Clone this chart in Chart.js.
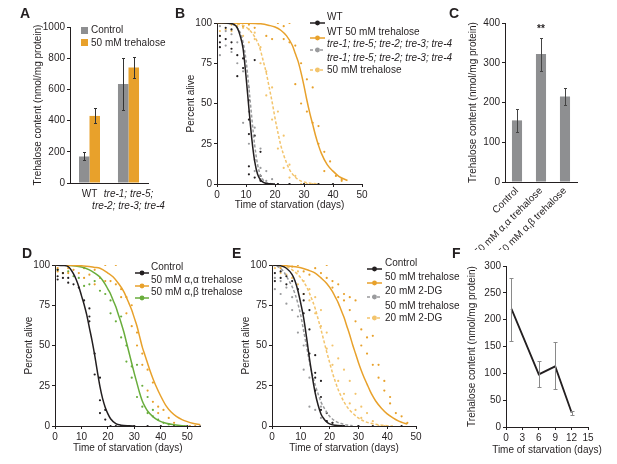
<!DOCTYPE html>
<html>
<head>
<meta charset="utf-8">
<script src="https://cdn.jsdelivr.net/npm/chart.js@4/dist/chart.umd.min.js"></script>
<style>
  body { margin: 0; background: #fff; font-family: 'Liberation Sans', Arial, sans-serif; color: #231f20; }
  #fig { position: relative; width: 617px; height: 464px; overflow: hidden; }
  canvas { position: absolute; }
  .letter { position: absolute; font-weight: bold; font-size: 14px; line-height: 14px; }
  .leg { position: absolute; font-size: 10px; line-height: 12px; white-space: nowrap; }
  .mark { position: absolute; }
  .xtitle { position: absolute; font-size: 10px; line-height: 12px; white-space: nowrap; transform: translateX(-50%); }
</style>
</head>
<body>
<div id="fig"></div>
<script>
/* global Chart */

// ---- panel A: trehalose content, WT vs quintuple mutant
const aCategories = ['WT', ['tre-1; tre-5;', 'tre-2; tre-3; tre-4']]
const aControl = [170, 635]
const aControlLo = [145, 465]
const aControlHi = [200, 800]
const aTrehalose = [430, 740]
const aTrehaloseLo = [385, 670]
const aTrehaloseHi = [478, 808]
const aTicks = [0, 200, 400, 600, 800, 1000]

// ---- panel B: survival, [day, percent alive]
const bSeries = ['WT', 'WT 50 mM trehalose', 'tre-1; tre-5; tre-2; tre-3; tre-4', 'tre-1; tre-5; tre-2; tre-3; tre-4|50 mM trehalose']
const bWtFit = [[0, 100], [2, 100], [4, 99.8], [6, 99], [7, 97], [8, 92], [9, 84], [10, 67], [11, 47], [12, 28], [13, 14], [14, 6], [15, 2.5], [16, 1], [17, 0.3], [18, 0.1], [20, 0]]
const bTreFit = [[0, 100], [2, 100], [4, 99.7], [6, 98.5], [8, 94], [9, 88], [10, 77], [11, 60], [12, 41], [13, 24], [14, 12], [15, 5.5], [16, 2.3], [17, 1], [18, 0.4], [20, 0]]
const bTreTreFit = [[0, 100], [5, 99.8], [8, 99], [10, 97.5], [12, 94], [14, 88], [15, 83], [16, 76], [17, 69], [18, 60], [19, 51], [20, 41], [21, 32], [22, 24], [23, 18], [24, 13], [25, 9], [27, 4.2], [29, 1.8], [31, 0.8], [33, 0.3], [35, 0]]
const bWtTreFit = [[0, 100], [10, 99.9], [15, 99.5], [18, 98.5], [20, 97.5], [22, 95.5], [24, 92], [26, 86], [27, 81], [28, 76], [29, 69], [30, 61], [31, 52], [32, 44], [33, 37], [34, 30], [35, 24], [36, 19], [38, 12], [40, 8], [42, 4.8], [45, 2.2]]
const bWtDots = [[1, 92], [1, 88], [1, 85], [3, 97], [3, 90], [5, 96], [5, 88], [5, 84], [7, 80], [7, 67], [9, 78], [9, 72], [11, 52], [11, 40], [11, 31], [11, 11], [11, 6], [13, 77], [13, 30], [13, 4], [15, 20], [15, 5], [15, 2], [17, 0], [19, 0], [21, 0], [25, 0], [30, 0], [35, 0], [40, 0]]
const bTreDots = [[1, 98], [1, 80], [3, 95], [3, 86], [5, 93], [5, 82], [7, 88], [7, 75], [9, 70], [9, 38], [11, 60], [11, 45], [11, 25], [13, 35], [13, 15], [13, 8], [15, 22], [15, 10], [15, 3], [17, 8], [17, 2], [19, 3], [19, 0], [21, 0], [25, 0]]
const bTreTreDots = [[1, 100], [1, 95], [3, 100], [3, 96], [5, 100], [5, 95], [7, 98], [9, 97], [9, 92], [11, 96], [11, 88], [13, 94], [13, 90], [15, 85], [15, 75], [17, 70], [17, 55], [19, 60], [19, 40], [21, 45], [21, 22], [23, 30], [23, 10], [25, 12], [25, 4], [27, 5], [29, 0], [31, 0], [33, 0], [35, 0]]
const bWtTreDots = [[1, 100], [3, 100], [5, 99], [7, 100], [9, 98], [11, 99], [13, 97], [15, 100], [17, 92], [19, 90], [21, 100], [23, 98], [23, 90], [25, 100], [25, 88], [27, 86], [27, 62], [29, 75], [29, 50], [31, 65], [31, 45], [33, 60], [33, 38], [35, 36], [35, 25], [37, 20], [37, 8], [39, 14], [41, 5], [43, 2], [43, 3]]

// ---- panel C: trehalose content by isomer
const cCategories = ['Control', '50 mM α,α trehalose', '50 mM α,β trehalose']
const cValues = [155, 322, 215]
const cLo = [127, 280, 193]
const cHi = [183, 362, 237]
const cSignif = ['', '**', '']
const cTicks = [0, 100, 200, 300, 400]

// ---- panel D: survival with trehalose isomers
const dSeries = ['Control', '50 mM α,α trehalose', '50 mM α,β trehalose']
const dCtrlFit = [[0, 100], [3, 99.7], [5, 99], [7, 94.5], [8, 91], [9, 86.5], [10, 81], [11, 75.5], [12, 69], [13, 61], [14, 53], [15, 44], [16, 34], [17, 24.5], [18, 17], [19, 11.5], [20, 7.5], [21, 4.5], [23, 1.5], [25, 0.5], [28, 0.1], [30, 0]]
const dAaFit = [[0, 100], [10, 99.5], [15, 98.5], [17, 98], [20, 95], [22, 92.5], [24, 88.5], [26, 83.5], [28, 76], [29, 72], [30, 67], [31, 62], [32, 55.5], [33, 49], [34, 44], [35, 39], [36, 34], [37, 29.5], [38, 25.5], [40, 18.5], [42, 12.5], [44, 8.5], [46, 5.8], [48, 4], [50, 2.7], [52, 1.7], [55, 0.8]]
const dAbFit = [[0, 100], [5, 99.8], [10, 98.7], [13, 97], [15, 95], [17, 92.5], [19, 88], [20, 85], [21, 82], [22, 78], [23, 74], [24, 69], [25, 64], [26, 58.5], [27, 52], [28, 45.5], [29, 39], [30, 32.5], [31, 26.5], [32, 20.5], [33, 15.5], [34, 12], [35, 9.3], [37, 5.8], [39, 3.5], [42, 1.7], [45, 0.8], [48, 0.2], [50, 0]]
const dCtrlDots = [[1, 97], [1, 93], [1, 91], [3, 95], [3, 92], [5, 92], [5, 89], [7, 88], [9, 86], [11, 78], [13, 73], [13, 68], [13, 65], [15, 45], [15, 32], [17, 30], [17, 16], [17, 8], [19, 10], [19, 4], [21, 0], [23, 0], [25, 0], [30, 0], [35, 0], [40, 0], [45, 0], [50, 0], [55, 0]]
const dAaDots = [[1, 98], [1, 96], [3, 100], [3, 95], [5, 98], [5, 95], [7, 97], [9, 95], [11, 98], [11, 92], [13, 94], [15, 97], [15, 88], [17, 92], [19, 100], [19, 90], [21, 90], [23, 100], [23, 88], [25, 85], [25, 80], [27, 80], [27, 70], [29, 75], [29, 62], [31, 58], [31, 50], [33, 45], [33, 38], [35, 35], [35, 22], [37, 27], [37, 15], [39, 12], [39, 8], [41, 10], [43, 5], [45, 2], [47, 0], [49, 0], [51, 0], [53, 0]]
const dAbDots = [[1, 97], [3, 95], [5, 96], [7, 93], [9, 92], [11, 87], [13, 88], [15, 90], [17, 84], [19, 82], [21, 78], [21, 70], [23, 65], [25, 68], [25, 55], [27, 50], [27, 40], [29, 37], [29, 30], [31, 38], [31, 18], [33, 25], [33, 12], [35, 18], [35, 8], [37, 10], [37, 6], [39, 4], [41, 2], [43, 1], [45, 0], [47, 0]]

// ---- panel E: survival with 2-DG
const eSeries = ['Control', '50 mM trehalose', '20 mM 2-DG', '50 mM trehalose|20 mM 2-DG']
const eCtrlFit = [[0, 100], [3, 99.5], [5, 98], [7, 94], [8, 90], [9, 84], [10, 76], [11, 67], [12, 55], [13, 42], [14, 30.5], [15, 20.5], [16, 13], [17, 7.5], [18, 4.5], [19, 2.5], [20, 1.3], [22, 0.4], [25, 0]]
const eDgFit = [[0, 100], [2, 99], [4, 96], [5, 93], [6, 90], [7, 86.5], [8, 82], [9, 76], [10, 68.5], [11, 59], [12, 49.5], [13, 40], [14, 32], [15, 25.5], [16, 20], [17, 15], [18, 11.5], [19, 8.5], [20, 6], [22, 3], [24, 1.5], [26, 0.6], [28, 0.2]]
const eTreDgFit = [[0, 100], [5, 99], [7, 97], [9, 94], [11, 89.5], [12, 86.5], [13, 82.5], [14, 78], [15, 73], [16, 66.5], [17, 60], [18, 53], [19, 46], [20, 39.5], [21, 33], [22, 27.5], [23, 22.5], [24, 18.5], [25, 15], [26, 12], [28, 8], [30, 5], [32, 3], [34, 1.8], [37, 0.8], [40, 0.2], [42, 0]]
const eTreFit = [[0, 100], [5, 99.5], [10, 98.3], [13, 96.5], [15, 95], [17, 92], [19, 88.5], [21, 83.5], [22, 80], [23, 76.5], [24, 72], [25, 67.5], [26, 62], [27, 56.5], [28, 50.5], [29, 45], [30, 39.5], [31, 34.5], [32, 30], [33, 26], [34, 22], [35, 18.5], [36, 15.5], [38, 11], [40, 7.5], [42, 5], [44, 3], [46, 1.7], [47, 1.2]]
const eCtrlDots = [[1, 95], [1, 90], [3, 96], [3, 92], [5, 93], [5, 88], [7, 90], [9, 85], [11, 82], [11, 78], [11, 70], [13, 72], [13, 60], [13, 45], [15, 44], [15, 33], [15, 22], [15, 30], [17, 28], [17, 18], [17, 10], [19, 8], [19, 3], [21, 2], [23, 0], [25, 0], [30, 0], [35, 0], [40, 0], [45, 0]]
const eDgDots = [[1, 92], [1, 85], [3, 90], [3, 82], [5, 86], [5, 76], [7, 80], [7, 72], [9, 68], [9, 58], [11, 50], [11, 35], [13, 30], [13, 12], [15, 22], [15, 10], [17, 12], [17, 5], [19, 3], [21, 2], [23, 0], [25, 0], [30, 0]]
const eTreDots = [[1, 100], [3, 98], [5, 100], [7, 99], [9, 100], [11, 96], [13, 94], [15, 98], [17, 95], [19, 100], [19, 92], [21, 90], [21, 86], [23, 88], [23, 80], [25, 82], [25, 78], [27, 80], [27, 72], [29, 78], [29, 65], [31, 60], [31, 50], [33, 55], [33, 45], [35, 56], [35, 38], [37, 38], [37, 30], [39, 28], [39, 22], [41, 14], [41, 18], [43, 8], [45, 6], [47, 2]]
const eTreDgDots = [[1, 98], [3, 95], [5, 94], [7, 92], [9, 96], [9, 88], [11, 90], [11, 82], [13, 85], [13, 78], [15, 80], [15, 70], [17, 72], [17, 62], [19, 58], [19, 48], [21, 50], [21, 38], [23, 42], [23, 28], [25, 35], [25, 20], [27, 28], [27, 14], [29, 20], [29, 10], [31, 12], [31, 5], [33, 8], [35, 3], [37, 0], [39, 0]]

// ---- panel F: trehalose content during starvation
const fDays = [1, 6, 9, 12]
const fContent = [220, 98, 113, 27]
const fLo = [160, 75, 70, 23]
const fHi = [278, 123, 158, 30]

const INK = '#231f20'
const ORANGE = '#e8a12b'
const LORANGE = '#f3c46c'
const GRAY = '#9a9b9d'
const BARGRAY = '#8e8f91'
const GREEN = '#69ad3c'

Chart.defaults.font.family = "'Liberation Sans', Arial, sans-serif"
Chart.defaults.font.size = 10
Chart.defaults.color = INK

const fig = document.getElementById('fig')

function makeCanvas (box) {
  const c = document.createElement('canvas')
  c.width = box.w
  c.height = box.h
  c.style.left = box.x + 'px'
  c.style.top = box.y + 'px'
  fig.appendChild(c)
  return c
}

// padding + fixed axis sizes so the plot area lands where it is in the figure
function frame (box, area, padLeft, padBottom) {
  return {
    padding: { left: padLeft, top: area.t - box.y, right: box.x + box.w - area.r, bottom: padBottom },
    yWidth: area.l - box.x - padLeft,
    xHeight: box.y + box.h - area.b - padBottom
  }
}

function linAxis (o) {
  return {
    type: 'linear',
    min: o.min,
    max: o.max,
    afterBuildTicks: s => { s.ticks = o.ticks.map(value => ({ value })) },
    afterFit: o.fit,
    grid: { drawOnChartArea: false, tickLength: 3, color: INK },
    border: { color: INK, width: 1 },
    ticks: { padding: 2, color: INK, autoSkip: false, maxRotation: 0, callback: v => String(v) },
    title: o.title ? { display: true, text: o.title, padding: 0, color: INK } : { display: false }
  }
}

const errorBars = {
  id: 'errorBars',
  afterDatasetsDraw (chart) {
    const ctx = chart.ctx
    const y = chart.scales.y
    chart.data.datasets.forEach((ds, i) => {
      if (!ds.errLo) return
      const meta = chart.getDatasetMeta(i)
      ctx.save()
      ctx.strokeStyle = ds.errColor
      ctx.lineWidth = 1
      meta.data.forEach((el, j) => {
        const x = Math.round(el.x) + 0.5
        const lo = Math.round(y.getPixelForValue(ds.errLo[j])) + 0.5
        const hi = Math.round(y.getPixelForValue(ds.errHi[j])) + 0.5
        const c = ds.cap
        ctx.beginPath()
        ctx.moveTo(x, lo); ctx.lineTo(x, hi)
        ctx.moveTo(x - c, lo); ctx.lineTo(x + c, lo)
        ctx.moveTo(x - c, hi); ctx.lineTo(x + c, hi)
        ctx.stroke()
      })
      ctx.restore()
    })
  }
}

const baseOpts = f => ({
  responsive: false,
  animation: false,
  events: [],
  layout: { padding: f.padding },
  plugins: { legend: { display: false }, tooltip: { enabled: false } }
})

const fitLine = (pts, color, dash) => ({
  data: pts.map(([x, y]) => ({ x, y })),
  showLine: true,
  borderColor: color,
  borderWidth: 1.5,
  borderDash: dash ? [3, 2] : [],
  pointRadius: 0,
  cubicInterpolationMode: 'monotone',
  tension: 0.4
})

const dotSet = (pts, color) => ({
  data: pts.map(([x, y]) => ({ x, y })),
  showLine: false,
  pointRadius: 1.1,
  pointBackgroundColor: color,
  pointBorderWidth: 0
})

function survival (box, area, padLeft, padBottom, xMax, xTicks, datasets) {
  const f = frame(box, area, padLeft, padBottom)
  new Chart(makeCanvas(box), {
    type: 'scatter',
    data: { datasets },
    options: Object.assign(baseOpts(f), {
      scales: {
        x: linAxis({ min: 0, max: xMax, ticks: xTicks, title: 'Time of starvation (days)', fit: s => { s.height = f.xHeight } }),
        y: linAxis({ min: 0, max: 100, ticks: [0, 25, 50, 75, 100], title: 'Percent alive', fit: s => { s.width = f.yWidth } })
      }
    })
  })
}

// ---- A
const boxA = { x: 0, y: 0, w: 200, h: 225 }
const fA = frame(boxA, { l: 70, t: 27, r: 148, b: 183 }, 32, 0)
new Chart(makeCanvas(boxA), {
  type: 'bar',
  data: {
    labels: aCategories,
    datasets: [
      { label: 'Control', data: aControl, backgroundColor: BARGRAY, errLo: aControlLo, errHi: aControlHi, errColor: '#333', cap: 1.5 },
      { label: '50 mM trehalose', data: aTrehalose, backgroundColor: ORANGE, errLo: aTrehaloseLo, errHi: aTrehaloseHi, errColor: '#333', cap: 1.5 }
    ]
  },
  options: Object.assign(baseOpts(fA), {
    datasets: { bar: { categoryPercentage: 0.54, barPercentage: 1 } },
    scales: {
      x: {
        grid: { display: false, drawTicks: false },
        border: { color: INK, width: 1 },
        afterFit: s => { s.height = fA.xHeight },
        ticks: { padding: 5, color: INK, maxRotation: 0, autoSkip: false, font: c => ({ size: 10, style: c.index === 1 ? 'italic' : 'normal' }) }
      },
      y: linAxis({ min: 0, max: 1000, ticks: aTicks, title: 'Trehalose content (nmol/mg protein)', fit: s => { s.width = fA.yWidth } })
    }
  }),
  plugins: [errorBars]
})

// ---- B
survival({ x: 180, y: 0, w: 195, h: 215 }, { l: 217, t: 23, r: 362, b: 184 }, 5, 4, 50, [0, 10, 20, 30, 40, 50], [
  fitLine(bWtFit, INK), fitLine(bWtTreFit, ORANGE), fitLine(bTreFit, GRAY, true), fitLine(bTreTreFit, LORANGE, true),
  dotSet(bWtDots, INK), dotSet(bWtTreDots, ORANGE), dotSet(bTreDots, GRAY), dotSet(bTreTreDots, LORANGE)
])

// ---- C
const boxC = { x: 458, y: 0, w: 159, h: 250 }
const fC = frame(boxC, { l: 505, t: 23, r: 577, b: 182 }, 9, 0)
const signifMarks = {
  id: 'signif',
  afterDatasetsDraw (chart) {
    const ctx = chart.ctx
    const meta = chart.getDatasetMeta(0)
    ctx.save()
    ctx.fillStyle = INK
    ctx.font = "bold 10px 'Liberation Sans', Arial, sans-serif"
    ctx.textAlign = 'center'
    ctx.textBaseline = 'middle'
    cSignif.forEach((s, i) => {
      if (s) ctx.fillText(s, meta.data[i].x, chart.scales.y.getPixelForValue(cHi[i] + 22))
    })
    ctx.restore()
  }
}
new Chart(makeCanvas(boxC), {
  type: 'bar',
  data: {
    labels: cCategories,
    datasets: [{ data: cValues, backgroundColor: BARGRAY, errLo: cLo, errHi: cHi, errColor: '#444', cap: 1.5 }]
  },
  options: Object.assign(baseOpts(fC), {
    datasets: { bar: { categoryPercentage: 1, barPercentage: 0.42 } },
    scales: {
      x: {
        grid: { display: false, drawTicks: false },
        border: { color: INK, width: 1 },
        afterFit: s => { s.height = fC.xHeight },
        ticks: { padding: 3, color: INK, minRotation: 45, maxRotation: 45, autoSkip: false }
      },
      y: linAxis({ min: 0, max: 400, ticks: cTicks, title: 'Trehalose content (nmol/mg protein)', fit: s => { s.width = fC.yWidth } })
    }
  }),
  plugins: [errorBars, signifMarks]
})

// ---- D
survival({ x: 10, y: 240, w: 210, h: 224 }, { l: 55, t: 265, r: 200.5, b: 426 }, 13, 10, 55, [0, 10, 20, 30, 40, 50], [
  fitLine(dCtrlFit, INK), fitLine(dAaFit, ORANGE), fitLine(dAbFit, GREEN),
  dotSet(dCtrlDots, INK), dotSet(dAaDots, ORANGE), dotSet(dAbDots, GREEN)
])

// ---- E
survival({ x: 222, y: 240, w: 205, h: 224 }, { l: 272, t: 265, r: 416, b: 426 }, 18, 10, 50, [0, 10, 20, 30, 40, 50], [
  fitLine(eCtrlFit, INK), fitLine(eTreFit, ORANGE), fitLine(eDgFit, GRAY, true), fitLine(eTreDgFit, LORANGE, true),
  dotSet(eCtrlDots, INK), dotSet(eTreDots, ORANGE), dotSet(eDgDots, GRAY), dotSet(eTreDgDots, LORANGE)
])

// ---- F  (x title is wider than the axis, so it goes in as page text)
const boxF = { x: 458, y: 240, w: 159, h: 224 }
const fF = frame(boxF, { l: 506, t: 266, r: 588, b: 427 }, 8, 8)
new Chart(makeCanvas(boxF), {
  type: 'scatter',
  data: {
    datasets: [{
      data: fDays.map((x, i) => ({ x, y: fContent[i] })),
      showLine: true,
      borderColor: INK,
      borderWidth: 1.8,
      pointRadius: 0,
      errLo: fLo,
      errHi: fHi,
      errColor: '#8a8a8a',
      cap: 2
    }]
  },
  options: Object.assign(baseOpts(fF), {
    scales: {
      x: linAxis({ min: 0, max: 15, ticks: [0, 3, 6, 9, 12, 15], fit: s => { s.height = fF.xHeight } }),
      y: linAxis({ min: 0, max: 300, ticks: [0, 50, 100, 150, 200, 250, 300], title: 'Trehalose content (nmol/mg protein)', fit: s => { s.width = fF.yWidth } })
    }
  }),
  plugins: [errorBars]
})

// ---- panel letters and legends
function addDiv (cls, x, y, html) {
  const d = document.createElement('div')
  d.className = cls
  d.style.left = x + 'px'
  d.style.top = y + 'px'
  d.innerHTML = html
  fig.appendChild(d)
  return d
}

addDiv('xtitle', 547, 444, 'Time of starvation (days)')

;[['A', 20, 6], ['B', 175, 6], ['C', 449, 6], ['D', 22, 246], ['E', 232, 246], ['F', 452, 246]]
  .forEach(([t, x, y]) => addDiv('letter', x, y, t))

// bar legend (A)
;[['Control', BARGRAY, 30], ['50 mM trehalose', ORANGE, 42.5]].forEach(([t, col, cy]) => {
  addDiv('mark', 81, cy - 3.5, `<div style="width:7px;height:7px;background:${col}"></div>`)
  addDiv('leg', 91, cy - 6, t)
})

// line legends (B, D, E)
function lineLegend (x0, x1, tx, rows) {
  rows.forEach(r => {
    const w = x1 - x0
    const dash = r.dash ? 'stroke-dasharray="3 2"' : ''
    addDiv('mark', x0, r.y - 4, `<svg width="${w}" height="8"><line x1="0" y1="4" x2="${w}" y2="4" stroke="${r.color}" stroke-width="1.5" ${dash}/><circle cx="${w / 2}" cy="4" r="2.4" fill="${r.color}"/></svg>`)
    const lines = r.text.split('|')
    const html = lines.map((l, i) => (r.italic && i === 0) ? `<i>${l}</i>` : l).join('<br>')
    addDiv('leg', tx, r.y - 6 * lines.length, html)
  })
}

lineLegend(310, 325, 327, [
  { text: bSeries[0], color: INK, y: 17 },
  { text: bSeries[1], color: ORANGE, y: 31.7 },
  { text: bSeries[2], color: GRAY, dash: true, italic: true, y: 43.5 },
  { text: bSeries[3], color: LORANGE, dash: true, italic: true, y: 64 }
])

lineLegend(135, 149, 151, [
  { text: dSeries[0], color: INK, y: 267 },
  { text: dSeries[1], color: ORANGE, y: 279.7 },
  { text: dSeries[2], color: GREEN, y: 292 }
])

lineLegend(367, 382, 385, [
  { text: eSeries[0], color: INK, y: 263.3 },
  { text: eSeries[1], color: ORANGE, y: 276.7 },
  { text: eSeries[2], color: GRAY, dash: true, y: 291 },
  { text: eSeries[3], color: LORANGE, dash: true, y: 312 }
])
</script>
</body>
</html>
